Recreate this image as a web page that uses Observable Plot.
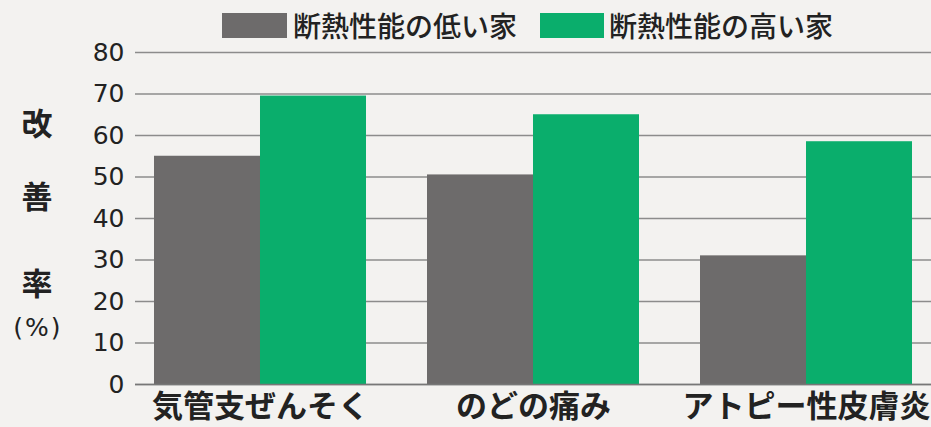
<!DOCTYPE html>
<html>
<head>
<meta charset="utf-8">
<script src="https://cdn.jsdelivr.net/npm/d3@7"></script>
<script src="https://cdn.jsdelivr.net/npm/@observablehq/plot@0.6"></script>
<style>
  html, body { margin: 0; padding: 0; background: #f3f2f0; }
  #wrap { position: relative; width: 931px; height: 427px; overflow: hidden; background: #f3f2f0;
          font-family: "Noto Sans CJK JP", "Noto Sans", sans-serif; color: #222; }
  #legend { position: absolute; top: 0; left: 0; width: 931px; height: 45px; }
  .sw { position: absolute; top: 13px; height: 25px; }
  .lt { position: absolute; top: 5px; font-size: 28px; font-weight: 500; line-height: 40px; white-space: nowrap; letter-spacing: 0px; }
  #chart { position: absolute; top: 45px; left: 0; }
  .yt { position: absolute; width: 60px; left: 7px; text-align: center; font-weight: 700; font-size: 31px; line-height: 31px; }
  .yp { position: absolute; width: 70px; left: 3px; text-align: center; font-family: "DejaVu Sans", sans-serif;
        font-size: 25px; line-height: 28px; letter-spacing: 2px; color: #222; }
</style>
</head>
<body>
<div id="wrap">
  <div id="legend"></div>
  <div id="chart"></div>
  <div id="ytitle"></div>
</div>
<script>
const categories = ["気管支ぜんそく", "のどの痛み", "アトピー性皮膚炎"];
const seriesNames = ["断熱性能の低い家", "断熱性能の高い家"];
const lowInsulation = [55, 50.5, 31];
const highInsulation = [69.5, 65, 58.5];
const yTicks = [0, 10, 20, 30, 40, 50, 60, 70, 80];
const yTitleChars = ["改", "善", "率"];
const yTitleUnit = "(%)";

const colors = ["#6d6b6b", "#0aae6c"];

const lowData = categories.map((c, i) => ({category: c, value: lowInsulation[i]}));
const highData = categories.map((c, i) => ({category: c, value: highInsulation[i]}));

const width = 931, height = 382;
const marginLeft = 135, marginRight = 0, marginTop = 7, marginBottom = 43;
const paddingInner = 0.225, paddingOuter = 0.0675;
const step = (width - marginLeft - marginRight) / (categories.length - paddingInner + 2 * paddingOuter);
const half = step * (1 - paddingInner) / 2;

const chart = Plot.plot({
  width, height, marginLeft, marginRight, marginTop, marginBottom,
  style: {background: "transparent", color: "#222", overflow: "visible"},
  x: {domain: categories, paddingInner, paddingOuter, label: null},
  y: {domain: [0, 80], label: null},
  marks: [
    Plot.gridY(yTicks, {stroke: "#8c8c8c", strokeOpacity: 1, strokeWidth: 1.3}),
    Plot.barY(lowData, {x: "category", y: "value", fill: colors[0], insetRight: half, insetLeft: 0}),
    Plot.barY(highData, {x: "category", y: "value", fill: colors[1], insetLeft: half, insetRight: 0}),
    Plot.ruleY([0], {stroke: "#777", strokeWidth: 1.5}),
    Plot.axisY({ticks: yTicks, tickSize: 0, tickPadding: 11, label: null,
      fontFamily: "DejaVu Sans, sans-serif", fontSize: 25, fill: "#222"}),
    Plot.axisX({tickSize: 0, tickPadding: 10, label: null,
      fontFamily: "Noto Sans CJK JP, sans-serif", fontSize: 31, fontWeight: 700, fill: "#222"})
  ]
});
document.getElementById("chart").appendChild(chart);

// legend
const legend = document.getElementById("legend");
const legendPos = [{sw: 222, swW: 65, tx: 293}, {sw: 540, swW: 64, tx: 609}];
seriesNames.forEach((name, i) => {
  const sw = document.createElement("div");
  sw.className = "sw";
  sw.style.left = legendPos[i].sw + "px";
  sw.style.width = legendPos[i].swW + "px";
  sw.style.background = colors[i];
  legend.appendChild(sw);
  const t = document.createElement("div");
  t.className = "lt";
  t.style.left = legendPos[i].tx + "px";
  t.textContent = name;
  legend.appendChild(t);
});

// y title
const yt = document.getElementById("ytitle");
const charTops = [106, 179, 266];
yTitleChars.forEach((ch, i) => {
  const d = document.createElement("div");
  d.className = "yt";
  d.style.top = charTops[i] + "px";
  d.textContent = ch;
  yt.appendChild(d);
});
const u = document.createElement("div");
u.className = "yp";
u.style.top = "314px";
u.textContent = yTitleUnit;
yt.appendChild(u);
</script>
</body>
</html>
